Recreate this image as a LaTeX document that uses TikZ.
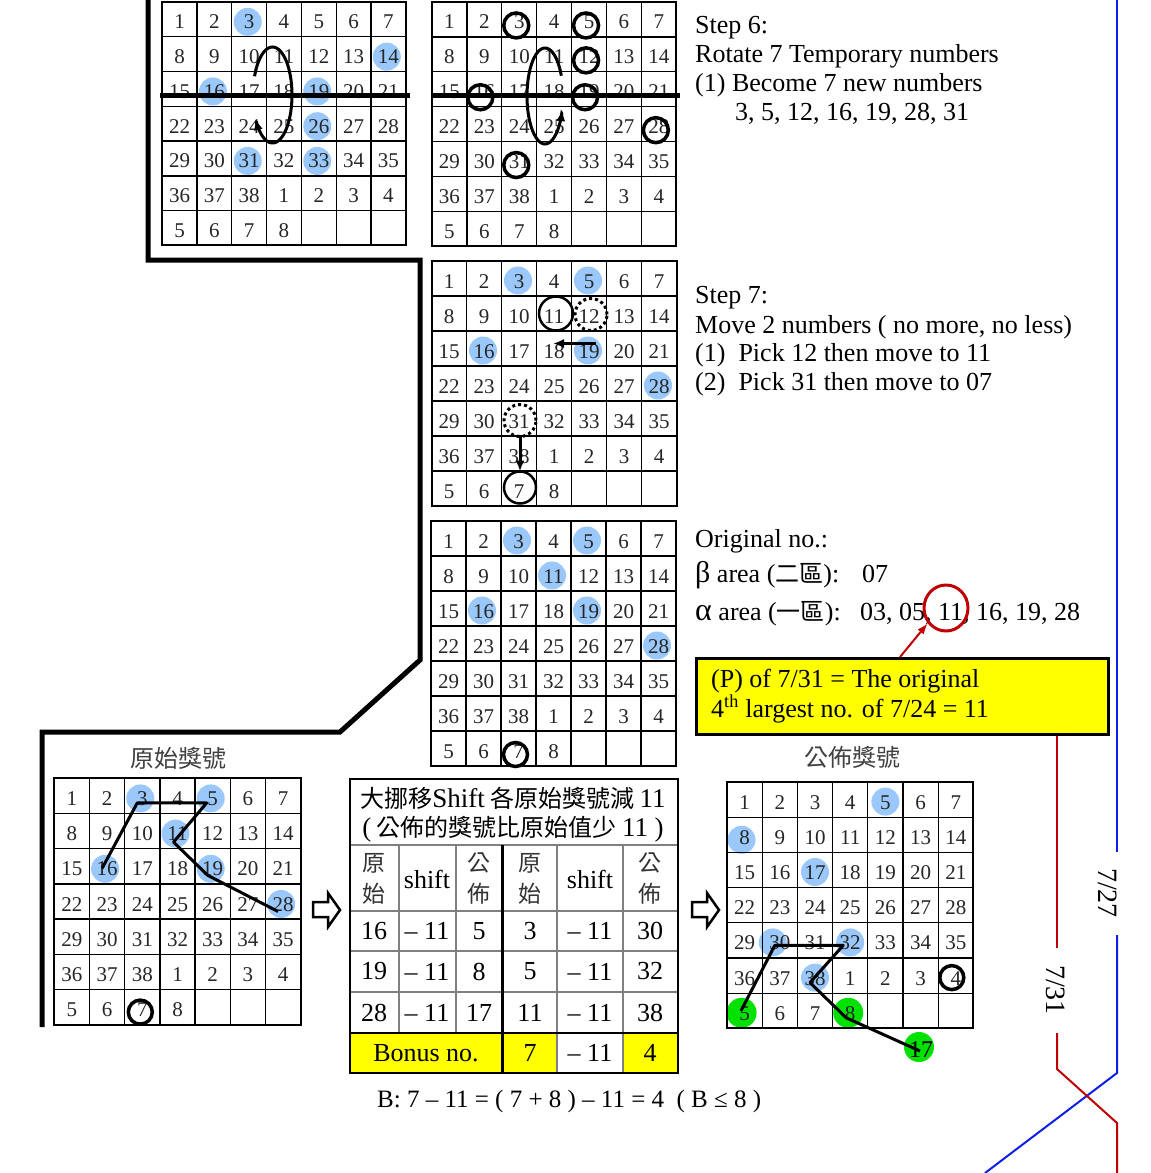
\documentclass[tikz,border=0pt]{standalone}
\usepackage{fontspec}
\setmainfont{Liberation Serif}
\newfontfamily\cjk{Noto Sans CJK TC}
\usetikzlibrary{calc,arrows.meta,shapes.geometric}
\pgfdeclarelayer{bg}
\pgfsetlayers{bg,main}
\definecolor{hlblue}{RGB}{155,200,250}
\definecolor{hlgreen}{RGB}{0,225,0}
\definecolor{dred}{RGB}{192,0,0}
\definecolor{lblue}{RGB}{15,30,230}
\definecolor{tyellow}{RGB}{255,255,0}
\def\gridlabels{1,2,3,4,5,6,7,8,9,10,11,12,13,14,15,16,17,18,19,20,21,22,23,24,25,26,27,28,29,30,31,32,33,34,35,36,37,38,1,2,3,4,5,6,7,8,{},{},{}}
\tikzset{
  cellbox/.style={draw=black, line width=1.3pt, inner sep=0pt, text height=19pt, text depth=0pt, font=\fontsize{21}{21}\selectfont, text=black!85},
  gridborder/.style={draw=black, line width=2pt},
  txt/.style={anchor=base west, inner sep=0pt, font=\fontsize{26}{26}\selectfont},
  ctxt/.style={inner sep=0pt, font=\fontsize{26}{26}\selectfont},
  cjktxt/.style={inner sep=0pt, font=\cjk\fontsize{23}{23}\selectfont},
  ring/.style={draw=black, line width=3.5pt},
  ringthin/.style={draw=black, line width=2.5pt},
  ringdot/.style={draw=black, line width=3pt, dash pattern=on 3pt off 3pt},
  rotarrow/.style={line width=3pt},
  movearrow/.style={line width=3pt, -{Latex[length=11pt,width=9pt]}},
  pathline/.style={line width=3pt, line join=round},
  tgray/.style={draw=black!50, line width=1.5pt},
  hollowarrow/.style={draw=black, line width=2.5pt, fill=white},
  datelabel/.style={inner sep=0pt, font=\fontsize{28}{28}\selectfont, rotate=-90},
}
\newcommand{\numgrid}[4]{%
  \foreach \lab [count=\i from 0] in \gridlabels {%
    \pgfmathtruncatemacro\gcol{mod(\i,7)}%
    \pgfmathtruncatemacro\grow{floor(\i/7)}%
    \node[cellbox, minimum size=#4pt] (#1-\i) at ({#2+(\gcol+0.5)*#4},{#3+(\grow+0.5)*#4}) {\lab};
  }%
  \draw[gridborder] (#2,#3) rectangle ({#2+7*#4},{#3+7*#4});
}
\begin{document}
\begin{tikzpicture}[x=1pt,y=-1pt]
\useasboundingbox (0,0) rectangle (1151,1173);

% thick separator path
\draw[line width=5pt] (148,0) -- (148,260) -- (420,260) -- (420,660) -- (340,732) -- (42,732) -- (42,1027);

% grids
\numgrid{ga}{162.3}{2}{34.77}
\numgrid{gb}{432}{2}{34.9}
\numgrid{gc}{431.5}{261}{35}
\numgrid{gd}{431}{521}{35}
\numgrid{ge}{54.3}{778.3}{35.2}
\numgrid{gf}{727}{782}{35.2}

% highlights (background)
\begin{pgfonlayer}{bg}
  \foreach \k in {2,13,15,18,25,30,32} \fill[hlblue] ($(ga-\k)+(-1.5,2.5)$) circle (14pt);
  \foreach \k in {2,4,15,18,27} \fill[hlblue] ($(gc-\k)+(-1,2)$) circle (14pt);
  \foreach \k in {2,4,10,15,18,27} \fill[hlblue] ($(gd-\k)+(-1.5,2)$) circle (14pt);
  \foreach \k in {2,4,10,15,18,27} \fill[hlblue] ($(ge-\k)+(-2,2.5)$) circle (14pt);
  \foreach \k in {4,16,31,37} \fill[hlblue] ($(gf-\k)+(0,2)$) circle (14pt);
  \fill[hlblue] ($(gf-7)+(-3,5)$) circle (14pt);
  \fill[hlblue] ($(gf-29)+(-7,2)$) circle (14pt);
  \fill[hlgreen] ($(gf-42)+(-3,2)$) circle (15pt);
  \fill[hlgreen] ($(gf-45)+(-2,2)$) circle (15pt);
  \fill[hlgreen] (919,1047) circle (15pt);
\end{pgfonlayer}
\node[inner sep=0pt, font=\fontsize{24}{24}\selectfont, text=black] (g17) at (921,1050) {17};

% grid 1 rotation
\draw[line width=5pt] (160,95) -- (410,95);
\draw[rotarrow, -{Latex[length=11pt,width=9pt]}] plot[domain=203:510, samples=70, smooth] ({272.5+19.5*cos(\x)},{95+48*sin(\x)});

% grid 2 rotation and rings
\draw[line width=5pt] (432,95.5) -- (680,95.5);
\draw[rotarrow, {Latex[length=11pt,width=9pt]}-] plot[domain=-343:-25, samples=70, smooth] ({545+18*cos(\x)},{96+48*sin(\x)});
\foreach \k in {2,4,11,27,30} \draw[ring] ($(gb-\k)+(-3,6)$) circle (12.5pt);
\foreach \k in {15,18} \draw[ring] ($(gb-\k)+(-4,8)$) circle (12.5pt);

% grid 3 moves
\draw[ringthin] ($(gc-10)+(2,0)$) circle (17pt);
\draw[ringdot] ($(gc-11)+(2,1)$) circle (16pt);
\draw[ringdot] ($(gc-30)+(1,2)$) circle (16pt);
\draw[ringthin] ($(gc-44)+(1,-1)$) circle (16pt);
\draw[movearrow] ($(gc-18)+(7,-5)$) -- ($(gc-17)+(-1,-5)$);
\draw[movearrow] ($(gc-30)+(1,17)$) -- ($(gc-44)+(1,-17)$);

% grid 4 ring
\draw[ring] ($(gd-44)+(-3,6)$) circle (12pt);

% grid 5 (original) ring and path
\draw[ring] ($(ge-44)+(-2,5)$) circle (12pt);
\draw[pathline] ($(ge-15)+(-5,2)$) -- ($(ge-2)+(-5,7)$) -- ($(ge-4)+(-6,7)$) -- ($(ge-10)+(-4,11)$) -- ($(ge-18)+(-5,9)$) -- ($(ge-27)+(-5,10)$);

% grid 7 (published) ring and path
\draw[ring] ($(gf-41)+(-4,2)$) circle (12pt);
\draw[pathline] ($(gf-42)+(-3.6,0)$) -- ($(gf-29)+(-5,5)$) -- ($(gf-31)+(-7,5)$) -- ($(gf-37)+(-5,7)$) -- ($(gf-45)+(-4,7)$) -- ($(g17.center)+(-1,1)$);

% titles
\node[cjktxt, font=\cjk\fontsize{24}{24}\selectfont, text=black!75] (t-orig) at (178,758) {原始獎號};
\node[cjktxt, font=\cjk\fontsize{24}{24}\selectfont, text=black!75] (t-pub) at (852,757) {公佈獎號};

% hollow arrows
\draw[hollowarrow] (313,902) -- (328,902) -- (328,893) -- (340,910) -- (328,927) -- (328,917) -- (313,917) -- cycle;
\draw[hollowarrow, shift={(379,0)}] (313,902) -- (328,902) -- (328,893) -- (340,910) -- (328,927) -- (328,917) -- (313,917) -- cycle;

% table
\fill[tyellow] (350,1033) rectangle (557,1073);
\fill[tyellow] (623,1033) rectangle (678,1073);
\draw[tgray] (350,845) -- (678,845) (350,911) -- (678,911) (350,951) -- (678,951) (350,992) -- (678,992);
\draw[tgray] (399,845) -- (399,1033) (456,845) -- (456,1033) (557,845) -- (557,1073) (623,845) -- (623,1073);
\draw[black, line width=2pt] (350,1033) -- (678,1033);
\draw[black, line width=3pt] (502,845) -- (502,1073);
\draw[black, line width=2.5pt] (350,779) rectangle (678,1073);
\node[cjktxt, font=\cjk\fontsize{24}{24}\selectfont] (tt1) at (513,798) {大挪移{\rmfamily\fontsize{27}{27}\selectfont Shift} 各原始獎號減 {\rmfamily\fontsize{27}{27}\selectfont 11}};
\node[cjktxt, font=\cjk\fontsize{24}{24}\selectfont] (tt2) at (513,829) {{\rmfamily\fontsize{27}{27}\selectfont (} 公佈的獎號比原始值少 {\rmfamily\fontsize{27}{27}\selectfont 11 )}};
\foreach \cx/\nm in {374/a,530/b} {
  \node[cjktxt, text=black!80] (h\nm1) at (\cx,863) {原};
  \node[cjktxt, text=black!80] (h\nm2) at (\cx,894) {始};
}
\foreach \cx/\nm in {479/a,650/b} {
  \node[cjktxt, text=black!80] (p\nm1) at (\cx,863) {公};
  \node[cjktxt, text=black!80] (p\nm2) at (\cx,894) {佈};
}
\node[ctxt] (sa) at (427,879) {shift};
\node[ctxt] (sb) at (590,879) {shift};
\foreach \yy/\a/\b/\c/\d [count=\r] in {931/16/5/3/30, 971.5/19/8/5/32, 1012.5/28/17/11/38} {
  \node[ctxt] (r\r a) at (374,\yy) {\a};
  \node[ctxt] (r\r b) at (427,\yy) {– 11};
  \node[ctxt] (r\r c) at (479,\yy) {\b};
  \node[ctxt] (r\r d) at (530,\yy) {\c};
  \node[ctxt] (r\r e) at (590,\yy) {– 11};
  \node[ctxt] (r\r f) at (650,\yy) {\d};
}
\node[ctxt] (bonus) at (426,1053) {Bonus no.};
\node[ctxt] (b7) at (530,1053) {7};
\node[ctxt] (b11) at (590,1053) {– 11};
\node[ctxt] (b4) at (650,1053) {4};

\node[txt, font=\fontsize{25}{25}\selectfont] (formula) at (377,1107) {B: 7 – 11 = ( 7 + 8 ) – 11 = 4~ ( B ≤ 8 )};

% right-hand texts
\node[txt] (s6a) at (695,33) {Step 6:};
\node[txt] (s6b) at (695,62.5) {Rotate 7 Temporary numbers};
\node[txt] (s6c) at (695,91) {(1) Become 7 new numbers};
\node[txt] (s6d) at (735,120) {3, 5, 12, 16, 19, 28, 31};
\node[txt] (s7a) at (695,303) {Step 7:};
\node[txt] (s7b) at (695,333) {Move 2 numbers ( no more, no less)};
\node[txt] (s7c) at (695,361) {(1)~~Pick 12 then move to 11};
\node[txt] (s7d) at (695,390) {(2)~~Pick 31 then move to 07};
\node[txt] (on1) at (695,547) {Original no.:};
\node[txt] (on2) at (695,582) {{\fontsize{30}{30}\selectfont β} area ({\cjk\fontsize{24}{24}\selectfont 二區}):};
\node[txt] (on2b) at (862,582) {07};
\node[txt] (on3) at (695,620) {{\fontsize{32}{32}\selectfont α} area ({\cjk\fontsize{24}{24}\selectfont 一區}):};
\node[txt] (on3b) at (860,620) {03, 05, 11, 16, 19, 28};

% red circle and yellow box
\node[draw=dred, line width=3pt, ellipse, minimum width=44pt, minimum height=46pt, inner sep=0pt] (c11) at (946,608) {};
\node[draw=black, line width=2.5pt, fill=tyellow, minimum width=412pt, minimum height=76pt, anchor=north west, inner sep=0pt] (ybox) at (695,657) {};
\node[txt] (y1) at (711,687) {(P) of 7/31 = The original};
\node[txt] (y2) at (711,717) {4\textsuperscript{th} largest no. of 7/24 = 11};
\draw[dred, line width=2pt, -{Latex[length=11pt,width=8pt]}] (ybox.north west -| 900,0) -- (c11.220);

% date lines
\node[datelabel] (d727) at (1108,893) {7/27};
\node[datelabel] (d731) at (1056,990) {7/31};
\coordinate (bl0) at (1117,0);
\coordinate (bl1) at (1117,852);
\coordinate (bl2) at (1117,935);
\coordinate (bl3) at (1117,1073);
\coordinate (bl4) at (985,1173);
\coordinate (rl0) at (1057,948);
\coordinate (rl1) at (1057,1033);
\coordinate (rl2) at (1057,1069);
\coordinate (rl3) at (1117,1123);
\coordinate (rl4) at (1117,1173);
\draw[lblue, line width=2pt] (bl0) -- (bl1);
\draw[lblue, line width=2pt] (bl2) -- (bl3) -- (bl4);
\draw[dred, line width=2pt] (ybox.south -| rl0) -- (rl0);
\draw[dred, line width=2pt] (rl1) -- (rl2) -- (rl3) -- (rl4);
\end{tikzpicture}
\end{document}
